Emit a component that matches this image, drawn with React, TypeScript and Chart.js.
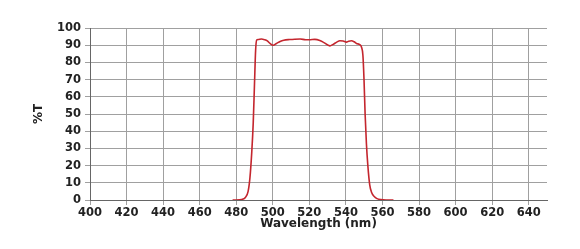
import React, { useEffect, useRef } from "react";
import { Chart, registerables } from "chart.js";

Chart.register(...registerables);

const wavelengths = [478, 480, 483, 485, 486.5, 487.5, 488.5, 489.3, 490, 490.6, 491.2, 492, 493.8, 495.5, 497, 498.5, 500.2, 502, 504, 506, 509.3, 512, 515, 518, 520, 523, 525.7, 528, 531.2, 533, 535, 536.7, 538.5, 540.3, 541.5, 543, 544.5, 545.8, 547.6, 548.5, 549.3, 549.9, 550.5, 551.2, 552, 553, 554, 555.5, 557, 559, 562, 566];
const transmission = [0, 0, 0.3, 1.5, 5, 13, 28, 45, 68, 87, 93, 93.3, 93.6, 93.2, 92.5, 91, 90, 91, 92.2, 92.9, 93.3, 93.5, 93.6, 93.2, 93.2, 93.4, 92.8, 91.5, 89.6, 90.5, 91.8, 92.6, 92.4, 91.8, 92.3, 92.6, 92, 91, 90.3, 89, 84, 70, 50, 33, 20, 9, 4.5, 2, 0.8, 0.2, 0, 0];
const xTicks = [400, 420, 440, 460, 480, 500, 520, 540, 560, 580, 600, 620, 640];
const yTicks = [0, 10, 20, 30, 40, 50, 60, 70, 80, 90, 100];

export default function App() {
  const ref = useRef<HTMLCanvasElement>(null);
  useEffect(() => {
    if (!ref.current) return;
    const tickFont = { family: "DejaVu Sans", weight: "bold" as const, size: 11.5 };
    const titleFont = { family: "DejaVu Sans", weight: "bold" as const, size: 12 };
    const chart = new Chart(ref.current, {
      type: "line",
      data: {
        datasets: [
          {
            data: wavelengths.map((w, i) => ({ x: w, y: transmission[i] })),
            borderColor: "#c4262e",
            borderWidth: 1.6,
            pointRadius: 0,
            tension: 0.3,
            cubicInterpolationMode: "monotone",
            fill: false,
          },
        ],
      },
      options: {
        animation: false,
        responsive: false,
        maintainAspectRatio: false,
        layout: { padding: { left: 20, right: 25, top: 20, bottom: 10 } },
        plugins: { legend: { display: false }, tooltip: { enabled: false } },
        scales: {
          x: {
            type: "linear",
            min: 400,
            max: 650,
            afterBuildTicks: (scale: any) => {
              scale.ticks = xTicks.map((v) => ({ value: v }));
            },
            afterFit: (scale: any) => {
              scale.height = 31;
            },
            ticks: { font: tickFont, color: "#222", padding: 1, maxRotation: 0, autoSkip: false },
            grid: { color: "#a0a0a0", tickLength: 5, lineWidth: 1 },
            border: { color: "#666", width: 1 },
            title: { display: true, text: "Wavelength (nm)", font: titleFont, color: "#222", padding: { top: 0, bottom: 0 } },
          },
          y: {
            type: "linear",
            min: 0,
            max: 100,
            afterBuildTicks: (scale: any) => {
              scale.ticks = yTicks.map((v) => ({ value: v }));
            },
            afterFit: (scale: any) => {
              scale.width = 62;
            },
            ticks: { font: tickFont, color: "#222", padding: 4 },
            grid: { color: "#a0a0a0", tickLength: 5, lineWidth: 1 },
            border: { color: "#666", width: 1 },
            title: { display: true, text: "%T", font: titleFont, color: "#222", padding: { top: 4, bottom: 0 } },
          },
        },
      },
    });
    return () => chart.destroy();
  }, []);
  return (
    <div style={{ width: 564, height: 233 }}>
      <canvas ref={ref} width={564} height={233} style={{ width: 564, height: 233 }} />
    </div>
  );
}
